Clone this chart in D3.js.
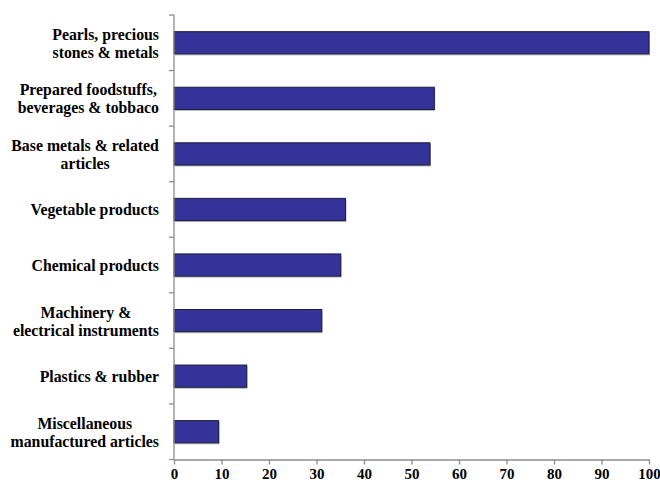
<!DOCTYPE html>
<html><head><meta charset="utf-8">
<script src="https://cdn.jsdelivr.net/npm/d3@7"></script>
<style>
body{margin:0;background:#fff}
svg{display:block}
svg text{font-family:"Liberation Serif","Times New Roman",Times,serif;font-weight:bold;fill:#000}
</style>
</head><body>
<script>
const categories = [
  ["Pearls, precious", "stones & metals"],
  ["Prepared foodstuffs,", "beverages & tobbaco"],
  ["Base metals & related", "articles"],
  ["Vegetable products"],
  ["Chemical products"],
  ["Machinery &", "electrical instruments"],
  ["Plastics & rubber"],
  ["Miscellaneous", "manufactured articles"]
];
const values = [100, 54.8, 53.9, 36.1, 35.1, 31.1, 15.3, 9.4];
const xTicks = [0, 10, 20, 30, 40, 50, 60, 70, 80, 90, 100];

(function () {
const W = 660, H = 485;
const mLeft = 174, mRight = 649, mTop = 15, mBottom = 459.5;
const svg = d3.select("body").append("svg").attr("width", W).attr("height", H);

const ids = categories.map((c, i) => i);
const x = d3.scaleLinear().domain([0, 100]).range([mLeft, mRight]);
const y = d3.scaleBand().domain(ids).range([mTop, mBottom]).paddingInner(0.6).paddingOuter(0.3);
const yb = d3.scaleBand().domain(ids).range([mTop, mBottom]);

const axisCol = "#8c8c8c";

// shadows
svg.append("g").selectAll("rect").data(values).join("rect")
  .attr("x", x(0) + 1).attr("y", (d, i) => y(i) + 1.5)
  .attr("width", d => x(d) - x(0)).attr("height", y.bandwidth())
  .attr("fill", "#b8b8b8");
// bars
svg.append("g").selectAll("rect").data(values).join("rect")
  .attr("x", x(0)).attr("y", (d, i) => y(i))
  .attr("width", d => x(d) - x(0)).attr("height", y.bandwidth())
  .attr("fill", "#333399").attr("stroke", "#1c1c3a").attr("stroke-width", 1);

// y axis line and ticks (at band boundaries)
const yg = svg.append("g");
yg.append("line").attr("x1", mLeft).attr("x2", mLeft).attr("y1", mTop).attr("y2", mBottom)
  .attr("stroke", axisCol).attr("stroke-width", 1.3);
const bounds = ids.map(i => yb(i)).concat([mBottom]);
yg.selectAll("line.t").data(bounds).join("line").attr("class", "t")
  .attr("x1", mLeft - 5).attr("x2", mLeft).attr("y1", d => d).attr("y2", d => d)
  .attr("stroke", axisCol).attr("stroke-width", 1.3);

// category labels
const lab = svg.append("g");
categories.forEach((lines, i) => {
  const cy = yb(i) + yb.bandwidth() / 2 + 0.5;
  const lh = 18;
  const t = lab.append("text").attr("text-anchor", "middle").style("font-size", "15.8px");
  lines.forEach((ln, j) => {
    t.append("tspan").attr("x", 0).attr("y", cy + (j - (lines.length - 1) / 2) * lh)
      .attr("dy", "0.35em").text(ln);
  });
  const bb = t.node().getBBox();
  t.attr("transform", `translate(${159 - bb.width / 2},0)`);
});

// x axis
const xAxis = d3.axisBottom(x).tickValues(xTicks).tickSize(5).tickSizeOuter(0).tickFormat(d3.format("d"));
const xg = svg.append("g").attr("transform", `translate(0,${mBottom})`).call(xAxis);
xg.attr("font-family", null).attr("font-size", null);
xg.select(".domain").attr("stroke", axisCol).attr("stroke-width", 1.3);
xg.selectAll(".tick line").attr("stroke", axisCol).attr("stroke-width", 1.3);
xg.selectAll(".tick text").style("font-size", "15px").attr("fill", "#000").attr("dy", "0").attr("y", 19);
})();
</script>
</body></html>
